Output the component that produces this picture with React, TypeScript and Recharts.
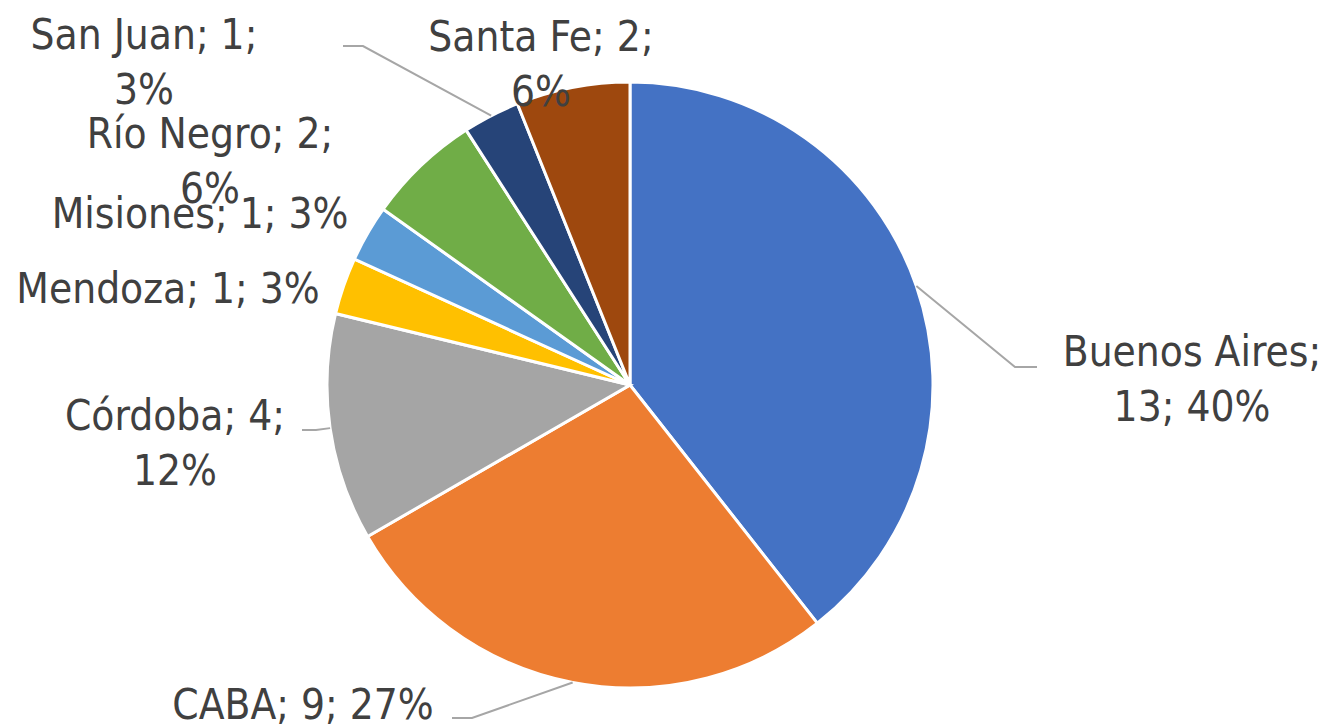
import React from 'react';
import { PieChart, Pie, Cell } from 'recharts';

// ---- data ----
const provinces = ['Buenos Aires', 'CABA', 'Córdoba', 'Mendoza', 'Misiones', 'Río Negro', 'San Juan', 'Santa Fe'];
const counts = [13, 9, 4, 1, 1, 2, 1, 2];
const percentLabels = ['40%', '27%', '12%', '3%', '3%', '6%', '3%', '6%'];
const sliceColors = ['#4472C4', '#ED7D31', '#A5A5A5', '#FFC000', '#5B9BD5', '#70AD47', '#264478', '#9E480E'];

// ---- label layout (offsets relative to pie centre) ----
// split: 0 = single line, 1 = break after name, 2 = break after value
const labelLayout = [
  { split: 1, dx: 562, dy: -19, elbow: [385, -18], end: [407, -18] },
  { split: 0, dx: -327, dy: 334, elbow: [-158, 333], end: [-178, 333] },
  { split: 2, dx: -455, dy: 45, elbow: [-314, 45], end: [-328, 45] },
  { split: 0, dx: -462, dy: -82 },
  { split: 0, dx: -430, dy: -157 },
  { split: 2, dx: -420, dy: -237 },
  { split: 2, dx: -486, dy: -336, elbow: [-267, -339], end: [-287, -339] },
  { split: 2, dx: -89, dy: -334 },
];

const data = provinces.map((name, i) => ({ name, value: counts[i] }));

const FONT = "'DejaVu Sans Condensed', 'DejaVu Sans', sans-serif";
const TEXT_COLOR = '#404040';
const LINE_COLOR = '#A6A6A6';
const LINE_GAP = 55;

const RAD = Math.PI / 180;

const renderLabel = (props: any) => {
  const { cx, cy, midAngle, outerRadius, index } = props;
  const lay = labelLayout[index];
  const name = provinces[index];
  const v = counts[index];
  const p = percentLabels[index];
  let lines: string[];
  if (lay.split === 1) lines = [`${name};`, `${v}; ${p}`];
  else if (lay.split === 2) lines = [`${name}; ${v};`, p];
  else lines = [`${name}; ${v}; ${p}`];
  const tx = cx + lay.dx;
  const ty = cy + lay.dy;
  let leader: React.ReactNode = null;
  if (lay.elbow && lay.end) {
    const sx = cx + outerRadius * Math.cos(-midAngle * RAD);
    const sy = cy + outerRadius * Math.sin(-midAngle * RAD);
    const pts = `${sx},${sy} ${cx + lay.elbow[0]},${cy + lay.elbow[1]} ${cx + lay.end[0]},${cy + lay.end[1]}`;
    leader = <polyline points={pts} fill="none" stroke={LINE_COLOR} strokeWidth={2} />;
  }
  return (
    <g key={`lbl-${index}`}>
      {leader}
      <text
        x={tx}
        y={ty}
        textAnchor="middle"
        fill={TEXT_COLOR}
        style={{ fontFamily: FONT, fontSize: 42, fontStretch: 'condensed' }}
      >
        {lines.map((ln, k) => (
          <tspan key={k} x={tx} y={ty + k * LINE_GAP}>
            {ln}
          </tspan>
        ))}
      </text>
    </g>
  );
};

export default function App() {
  return (
    <div style={{ position: 'absolute', left: 0, top: 0, width: 1342, height: 728, background: '#fff' }}>
      <PieChart width={1342} height={728} margin={{ top: 0, right: 0, bottom: 0, left: 0 }}>
        <Pie
          data={data}
          dataKey="value"
          nameKey="name"
          cx={630}
          cy={385}
          outerRadius={303}
          startAngle={90}
          endAngle={-270}
          stroke="#FFFFFF"
          strokeWidth={3}
          label={renderLabel}
          labelLine={false}
          isAnimationActive={false}
        >
          {data.map((d, i) => (
            <Cell key={d.name} fill={sliceColors[i]} />
          ))}
        </Pie>
      </PieChart>
    </div>
  );
}
